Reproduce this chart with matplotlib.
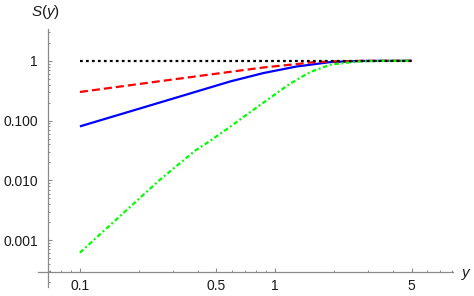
import matplotlib
matplotlib.use("Agg")
import matplotlib.pyplot as plt
from matplotlib.ticker import FixedLocator, NullFormatter

plt.rcParams['font.family'] = ['Liberation Sans', 'DejaVu Sans']
plt.rcParams['mathtext.fontset'] = 'custom'
plt.rcParams['mathtext.rm'] = 'Liberation Sans'
plt.rcParams['mathtext.it'] = 'Liberation Sans:italic'
plt.rcParams['lines.scale_dashes'] = False

# ---- data ----
x_black = [0.1, 5.0]
y_black = [1.0, 1.0]

x_red = [0.1, 0.252, 0.647, 0.871, 1.06, 1.29, 1.51, 1.91, 2.73, 5.0]
y_red = [0.301, 0.452, 0.681, 0.773, 0.826, 0.881, 0.937, 0.973, 0.995, 1.0]

x_blue = [0.1, 0.252, 0.589, 0.871, 1.06, 1.29, 1.51, 1.91, 2.73, 5.0]
y_blue = [0.080, 0.197, 0.452, 0.624, 0.708, 0.804, 0.858, 0.951, 0.993, 1.0]

x_green = [0.1, 0.127, 0.258, 0.390, 0.465, 0.577, 0.855, 1.17, 1.29, 1.51,
           1.91, 2.23, 2.73, 3.5, 5.0]
y_green = [6.2e-4, 1.26e-3, 0.0104, 0.0316, 0.046, 0.0756, 0.192, 0.398, 0.482,
           0.648, 0.858, 0.915, 0.98, 0.998, 1.0]

xticks = [0.1, 0.5, 1, 5]
xticklabels = ['0.1', '0.5', '1', '5']
yticks = [0.001, 0.01, 0.1, 1]
yticklabels = ['0.001', '0.010', '0.100', '1']

W, H = 474, 296
fig = plt.figure(figsize=(W / 100, H / 100), dpi=100)
ax = fig.add_axes([38 / W, (H - 287) / H, (453 - 38) / W, (287 - 29) / H])

ax.set_xscale('log')
ax.set_yscale('log')
ax.set_xlim(0.061, 8.13)
ax.set_ylim(1.65e-4, 3.4)

lw = 1.6
ax.plot(x_blue, y_blue, color=(0, 0, 1), lw=lw, solid_capstyle='butt')
ax.plot(x_red, y_red, color=(1, 0, 0), lw=lw, dashes=(5.8, 2.9), dash_capstyle='butt')
ax.plot(x_green, y_green, color=(0, 1, 0), lw=lw, dashes=(3.3, 1.9, 1.4, 1.9), dash_capstyle='butt')
ax.plot(x_black, y_black, color='black', lw=lw, dashes=(2.0, 2.3), dash_capstyle='butt')

axis_color = '#8a8a8a'
for s in ['top', 'right']:
    ax.spines[s].set_visible(False)
ax.spines['left'].set_position(('data', 0.0684))
ax.spines['bottom'].set_position(('data', 2.93e-4))
for s in ['left', 'bottom']:
    ax.spines[s].set_color(axis_color)
    ax.spines[s].set_linewidth(0.9)

ax.xaxis.set_major_locator(FixedLocator(xticks))
ax.set_xticklabels(xticklabels)
ax.yaxis.set_major_locator(FixedLocator(yticks))
ax.set_yticklabels(yticklabels)

xminor = [0.07, 0.08, 0.09, 0.2, 0.3, 0.4, 0.6, 0.7, 0.8, 0.9, 2, 3, 4, 6, 7, 8]
yminor = []
for d in [1e-4, 1e-3, 1e-2, 1e-1, 1]:
    for k in range(2, 10):
        v = k * d
        if 1.65e-4 <= v <= 3.4:
            yminor.append(v)
ax.xaxis.set_minor_locator(FixedLocator(xminor))
ax.yaxis.set_minor_locator(FixedLocator(yminor))
ax.xaxis.set_minor_formatter(NullFormatter())
ax.yaxis.set_minor_formatter(NullFormatter())

ax.tick_params(which='major', direction='in', length=3.0, width=0.8, color=axis_color,
               labelsize=10, labelcolor='#1a1a1a')
ax.tick_params(which='minor', direction='in', length=1.6, width=0.7, color=axis_color)
ax.tick_params(axis='y', which='major', pad=7)
ax.tick_params(axis='x', which='major', pad=5)

fig.text(46 / W, 1 - 12 / H, r'$S(y)$', ha='center', va='center', fontsize=11,
         color='#1a1a1a')
fig.text(467 / W, 1 - 274 / H, r'$y$', ha='center', va='center', fontsize=11,
         color='#1a1a1a')

fig.savefig('out.png', dpi=100)
